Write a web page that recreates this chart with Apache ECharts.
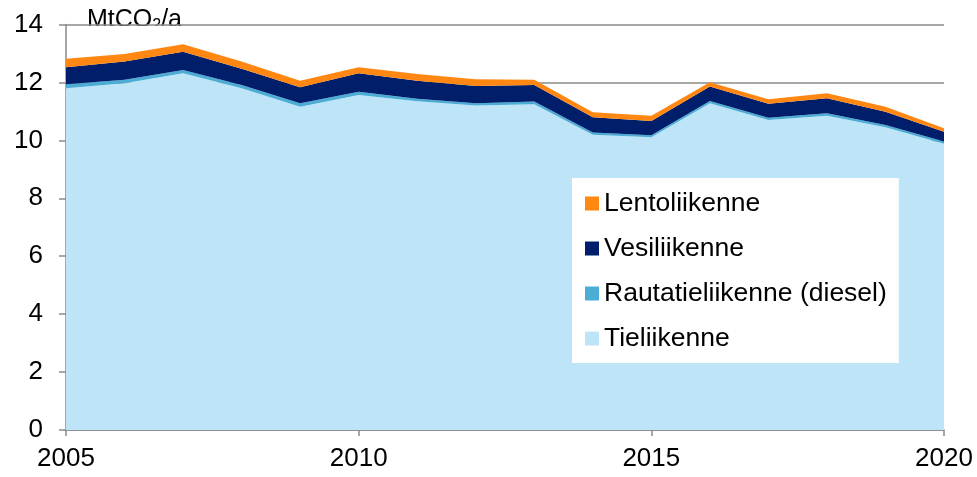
<!DOCTYPE html>
<html>
<head>
<meta charset="utf-8">
<script src="https://cdn.jsdelivr.net/npm/echarts@6/dist/echarts.min.js"></script>
<style>
  html, body { margin: 0; padding: 0; background: #fff; }
  #chart { width: 977px; height: 477px; }
</style>
</head>
<body>
<div id="chart"></div>
<script>
const years = ['2005','2006','2007','2008','2009','2010','2011','2012','2013','2014','2015','2016','2017','2018','2019','2020'];
// MtCO2/a, stacked bottom-up
const tieliikenne = [11.80, 11.97, 12.32, 11.80, 11.16, 11.57, 11.35, 11.20, 11.25, 10.19, 10.11, 11.28, 10.70, 10.85, 10.45, 9.88];
const rautatie    = [0.14, 0.12, 0.11, 0.11, 0.12, 0.11, 0.09, 0.08, 0.09, 0.08, 0.07, 0.08, 0.08, 0.09, 0.08, 0.08];
const vesi        = [0.58, 0.63, 0.63, 0.56, 0.55, 0.64, 0.62, 0.60, 0.57, 0.53, 0.49, 0.50, 0.48, 0.51, 0.46, 0.34];
const lento       = [0.30, 0.26, 0.26, 0.25, 0.23, 0.20, 0.23, 0.23, 0.18, 0.17, 0.18, 0.15, 0.16, 0.18, 0.17, 0.12];
const legendOrder = ['Lentoliikenne', 'Vesiliikenne', 'Rautatieliikenne (diesel)', 'Tieliikenne'];

const font = '"Liberation Sans", Arial, sans-serif';
const chart = echarts.init(document.getElementById('chart'));

function area(name, data, color) {
  return {
    name: name,
    type: 'line',
    stack: 'total',
    data: data,
    showSymbol: false,
    symbol: 'none',
    lineStyle: { width: 0 },
    itemStyle: { color: color },
    areaStyle: { color: color, opacity: 1 },
    emphasis: { disabled: true },
    animation: false
  };
}

chart.setOption({
  animation: false,
  grid: { left: 66, right: 33, top: 24.5, bottom: 47, containLabel: false },
  xAxis: {
    type: 'category',
    data: years,
    boundaryGap: false,
    axisLine: { lineStyle: { color: '#8a8a8a', width: 1.5 } },
    axisTick: { show: true, interval: 4, length: 6, lineStyle: { color: '#8a8a8a', width: 1.5 } },
    axisLabel: { interval: 4, color: '#000', fontFamily: font, fontSize: 26, margin: 16 },
    splitLine: { show: false }
  },
  yAxis: {
    type: 'value',
    min: 0,
    max: 14,
    interval: 2,
    axisLine: { show: true, lineStyle: { color: '#8a8a8a', width: 1.5 } },
    axisTick: { show: true, length: 7, lineStyle: { color: '#8a8a8a', width: 1.5 } },
    axisLabel: { color: '#000', fontFamily: font, fontSize: 26, margin: 23 },
    splitLine: { show: true, lineStyle: { color: '#8a8a8a', width: 1.5 } }
  },
  legend: {
    orient: 'vertical',
    left: 572,
    top: 178,
    data: legendOrder,
    backgroundColor: '#fff',
    padding: [12, 12, 11, 13],
    itemWidth: 14,
    itemHeight: 14,
    itemGap: 18,
    icon: 'rect',
    selectedMode: false,
    textStyle: { color: '#000', fontFamily: font, fontSize: 26.5, lineHeight: 26 }
  },
  graphic: [
    {
      type: 'text',
      left: 87,
      top: 8,
      z: 0,
      style: {
        rich: {
          a: { fontFamily: font, fontSize: 25, fill: '#000' },
          s: { fontFamily: font, fontSize: 16, fill: '#000', padding: [10, 0, 0, 0] }
        },
        text: '{a|MtCO}{s|2}{a|/a}'
      }
    },
    {
      type: 'rect',
      z: 1,
      shape: { x: 80, y: 26, width: 130, height: 22 },
      style: { fill: '#fff' }
    }
  ],
  series: [
    area('Tieliikenne', tieliikenne, '#bde4f7'),
    area('Rautatieliikenne (diesel)', rautatie, '#4bacd6'),
    area('Vesiliikenne', vesi, '#001e6a'),
    area('Lentoliikenne', lento, '#ff8712')
  ]
});
</script>
</body>
</html>
